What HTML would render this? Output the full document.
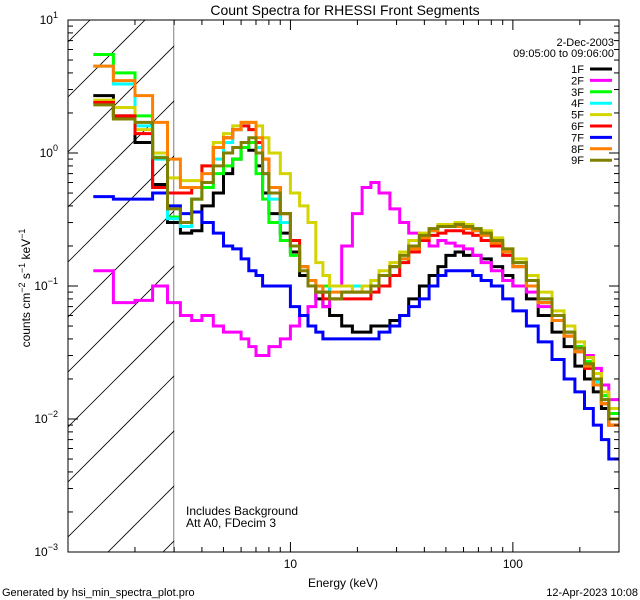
<!DOCTYPE html>
<html><head><meta charset="utf-8"><style>
html,body{margin:0;padding:0;background:#fff;overflow:hidden;width:640px;height:600px;}
svg{display:block;font-family:"Liberation Sans",sans-serif;}
</style></head><body>
<svg id="chart" width="640" height="600" viewBox="0 0 640 600" xmlns="http://www.w3.org/2000/svg">
<rect width="640" height="600" fill="#fff"/>
<text x="345" y="15" font-size="14" text-anchor="middle">Count Spectra for RHESSI Front Segments</text>
<g id="hatch"></g>
<g id="series"></g>
<g id="axes"></g>
<g id="legend"></g>
<text transform="translate(30,288) rotate(-90)" font-size="12" text-anchor="middle">counts cm<tspan baseline-shift="super" font-size="9">−2</tspan> s<tspan baseline-shift="super" font-size="9">−1</tspan> keV<tspan baseline-shift="super" font-size="9">−1</tspan></text>
<text x="343" y="587" font-size="12" text-anchor="middle">Energy (keV)</text>
<text x="186" y="515" font-size="12">Includes Background</text>
<text x="186" y="527" font-size="12">Att A0, FDecim 3</text>
<text x="2" y="596" font-size="11">Generated by hsi_min_spectra_plot.pro</text>
<text x="638" y="596" font-size="11" text-anchor="end">12-Apr-2023 10:08</text>
</svg>
<script>
const edges=[1.3,1.6,2.0,2.4,2.8,3.2,3.6,4.0,4.5,5,5.5,6,6.5,7,7.5,8,9,10,11,12,13,14,15,17,19,21,23,25,28,31,34,38,42,46,50,55,60,66,72,80,90,100,115,130,150,170,190,210,230,250,270,300];
const s1F=[2.7,1.9,1.2,0.58,0.30,0.25,0.26,0.4,0.5,0.7,0.9,1.1,1.05,0.8,0.5,0.35,0.25,0.18,0.12,0.1,0.08,0.07,0.06,0.05,0.045,0.045,0.05,0.05,0.055,0.06,0.08,0.1,0.12,0.14,0.17,0.18,0.17,0.17,0.16,0.14,0.12,0.1,0.08,0.06,0.045,0.035,0.025,0.02,0.016,0.012,0.009];
const s2F=[0.13,0.075,0.078,0.1,0.075,0.06,0.055,0.06,0.05,0.045,0.045,0.04,0.035,0.03,0.03,0.035,0.04,0.05,0.06,0.07,0.1,0.07,0.1,0.2,0.35,0.55,0.6,0.5,0.38,0.3,0.25,0.22,0.2,0.22,0.21,0.2,0.19,0.17,0.15,0.13,0.11,0.1,0.09,0.07,0.055,0.045,0.035,0.03,0.024,0.018,0.014];
const s3F=[5.5,4.0,1.9,0.93,0.33,0.3,0.45,0.55,0.7,0.8,0.9,1.1,1.2,0.7,0.45,0.3,0.22,0.17,0.14,0.1,0.09,0.1,0.1,0.1,0.1,0.1,0.11,0.12,0.14,0.16,0.2,0.24,0.26,0.28,0.29,0.3,0.29,0.27,0.25,0.22,0.18,0.15,0.11,0.08,0.06,0.045,0.035,0.027,0.02,0.015,0.011];
const s4F=[4.5,3.3,1.6,0.9,0.32,0.28,0.45,0.6,0.9,1.2,1.5,1.6,1.5,1.1,0.7,0.45,0.3,0.2,0.14,0.11,0.1,0.09,0.1,0.1,0.1,0.1,0.11,0.12,0.14,0.16,0.2,0.24,0.26,0.28,0.29,0.29,0.28,0.26,0.24,0.21,0.17,0.14,0.1,0.075,0.055,0.042,0.032,0.025,0.019,0.014,0.01];
const s5F=[2.5,2.2,1.5,1.0,0.65,0.62,0.62,0.8,1.2,1.4,1.6,1.7,1.7,1.6,1.3,1.0,0.7,0.5,0.4,0.3,0.15,0.12,0.1,0.1,0.09,0.1,0.11,0.13,0.15,0.18,0.22,0.25,0.27,0.29,0.29,0.3,0.29,0.27,0.26,0.23,0.19,0.16,0.12,0.09,0.065,0.05,0.038,0.029,0.022,0.016,0.012];
const s6F=[2.4,1.9,1.4,0.55,0.5,0.5,0.55,0.8,1.1,1.3,1.5,1.6,1.5,1.2,0.9,0.55,0.35,0.22,0.14,0.1,0.09,0.08,0.08,0.08,0.08,0.08,0.09,0.1,0.12,0.15,0.18,0.22,0.24,0.25,0.26,0.26,0.25,0.24,0.22,0.2,0.17,0.14,0.1,0.075,0.055,0.042,0.032,0.024,0.018,0.013,0.009];
const s7F=[0.47,0.45,0.45,0.5,0.4,0.35,0.36,0.3,0.25,0.2,0.19,0.16,0.13,0.12,0.1,0.1,0.1,0.07,0.06,0.05,0.045,0.04,0.04,0.04,0.04,0.04,0.04,0.045,0.05,0.06,0.07,0.08,0.1,0.12,0.13,0.13,0.13,0.12,0.11,0.1,0.08,0.065,0.05,0.038,0.028,0.02,0.016,0.012,0.009,0.007,0.005];
const s8F=[4.5,3.5,2.7,1.7,0.9,0.55,0.55,0.7,1.1,1.3,1.5,1.7,1.7,1.3,0.9,0.55,0.35,0.2,0.14,0.11,0.1,0.09,0.09,0.09,0.09,0.09,0.1,0.12,0.14,0.16,0.19,0.23,0.26,0.28,0.28,0.28,0.27,0.26,0.24,0.21,0.18,0.14,0.1,0.075,0.055,0.042,0.032,0.025,0.018,0.013,0.009];
const s9F=[2.3,1.8,1.7,0.92,0.38,0.3,0.45,0.6,0.8,1.0,1.1,1.2,1.3,1.0,0.7,0.5,0.35,0.2,0.13,0.1,0.09,0.09,0.08,0.09,0.09,0.09,0.1,0.12,0.14,0.17,0.2,0.24,0.27,0.28,0.28,0.29,0.28,0.27,0.25,0.22,0.19,0.15,0.11,0.08,0.06,0.045,0.034,0.026,0.02,0.014,0.01];
const seriesNames=["1F","2F","3F","4F","5F","6F","7F","8F","9F"];
const seriesData=[s1F,s2F,s3F,s4F,s5F,s6F,s7F,s8F,s9F];
const seriesColors=["#000","#ff00ff","#00ff00","#00ffff","#d4d400","#ff0000","#0000ff","#ff8000","#808000"];
const xTickVals=[10,100];
const yTickVals=[1e-3,1e-2,1e-1,1,10];
const yTickExp=["−3","−2","−1","0","1"];

const NS="http://www.w3.org/2000/svg";
const L=68,R=619,T=20,B=552;
const xmin=1,xmax=300,ymin=1e-3,ymax=10;
function X(v){return L+(Math.log10(v)-Math.log10(xmin))/(Math.log10(xmax)-Math.log10(xmin))*(R-L);}
function Y(v){return B-(Math.log10(v)-Math.log10(ymin))/(Math.log10(ymax)-Math.log10(ymin))*(B-T);}
function mk(tag,attrs,parent){const e=document.createElementNS(NS,tag);for(const k in attrs)e.setAttribute(k,attrs[k]);parent.appendChild(e);return e;}

const defs=mk('defs',{},document.getElementById('chart'));
const cp=mk('clipPath',{id:'plotclip'},defs);mk('rect',{x:L,y:T,width:R-L,height:B-T},cp);
const cp2=mk('clipPath',{id:'hclip'},defs);mk('rect',{x:L,y:T,width:X(3)-L,height:B-T},cp2);

const hg=document.getElementById('hatch');hg.setAttribute('clip-path','url(#hclip)');
for(let k=-10;k<20;k++){const y0=B+40-k*55;
  const ln=mk('line',{x1:L,y1:y0,x2:L+600,y2:y0-600,stroke:'#000','stroke-width':0.8},hg);
  
  
}
const vl=mk('line',{x1:X(3),y1:T,x2:X(3),y2:B,stroke:'#000','stroke-width':1},hg);



const sg=document.getElementById('series');sg.setAttribute('clip-path','url(#plotclip)');
seriesData.forEach((vals,i)=>{
  let d='';
  for(let j=0;j<vals.length;j++){
    const x1=X(edges[j]),x2=X(edges[j+1]),y=Y(vals[j]);
    d+=(j===0?'M':'L')+x1.toFixed(1)+','+y.toFixed(1)+'L'+x2.toFixed(1)+','+y.toFixed(1);
  }
  const p=mk('path',{d:d,fill:'none',stroke:seriesColors[i],'stroke-width':3,'stroke-linejoin':'miter'},sg);
  
  
});

const ag=document.getElementById('axes');
mk('rect',{x:L,y:T,width:R-L,height:B-T,fill:'none',stroke:'#000','stroke-width':1},ag);
for(let dec=0;dec<3;dec++){for(let m=1;m<10;m++){const v=m*Math.pow(10,dec);if(v<xmin||v>xmax)continue;const x=X(v);const len=(m===1)?10:5;
  mk('line',{x1:x,y1:B,x2:x,y2:B-len,stroke:'#000'},ag);mk('line',{x1:x,y1:T,x2:x,y2:T+len,stroke:'#000'},ag);}}
for(let dec=-3;dec<1;dec++){for(let m=1;m<10;m++){const v=m*Math.pow(10,dec);const y=Y(v);const len=(m===1)?10:5;
  mk('line',{x1:L,y1:y,x2:L+len,y2:y,stroke:'#000'},ag);mk('line',{x1:R,y1:y,x2:R-len,y2:y,stroke:'#000'},ag);}}
xTickVals.forEach(v=>{const t=mk('text',{x:X(v),y:B+16,'font-size':12,'text-anchor':'middle'},ag);t.textContent=String(v);
  
  });
yTickVals.forEach((v,i)=>{const t=mk('text',{x:L-10,y:Y(v)+4,'font-size':12,'text-anchor':'end'},ag);
  t.innerHTML='10<tspan dy="-6" font-size="9">'+yTickExp[i]+'</tspan>';
  
  });

const lg=document.getElementById('legend');
mk('text',{x:614,y:46,'font-size':11,'text-anchor':'end'},lg).textContent='2-Dec-2003';
mk('text',{x:614,y:57,'font-size':11,'text-anchor':'end'},lg).textContent='09:05:00 to 09:06:00';
seriesNames.forEach((n,i)=>{const y=69+i*11.4;
  const t=mk('text',{x:584,y:y+4,'font-size':11,'text-anchor':'end'},lg);t.textContent=n;
  
  
  const l=mk('line',{x1:590,y1:y,x2:612,y2:y,stroke:seriesColors[i],'stroke-width':3},lg);
  
  
});
</script>
</body></html>
